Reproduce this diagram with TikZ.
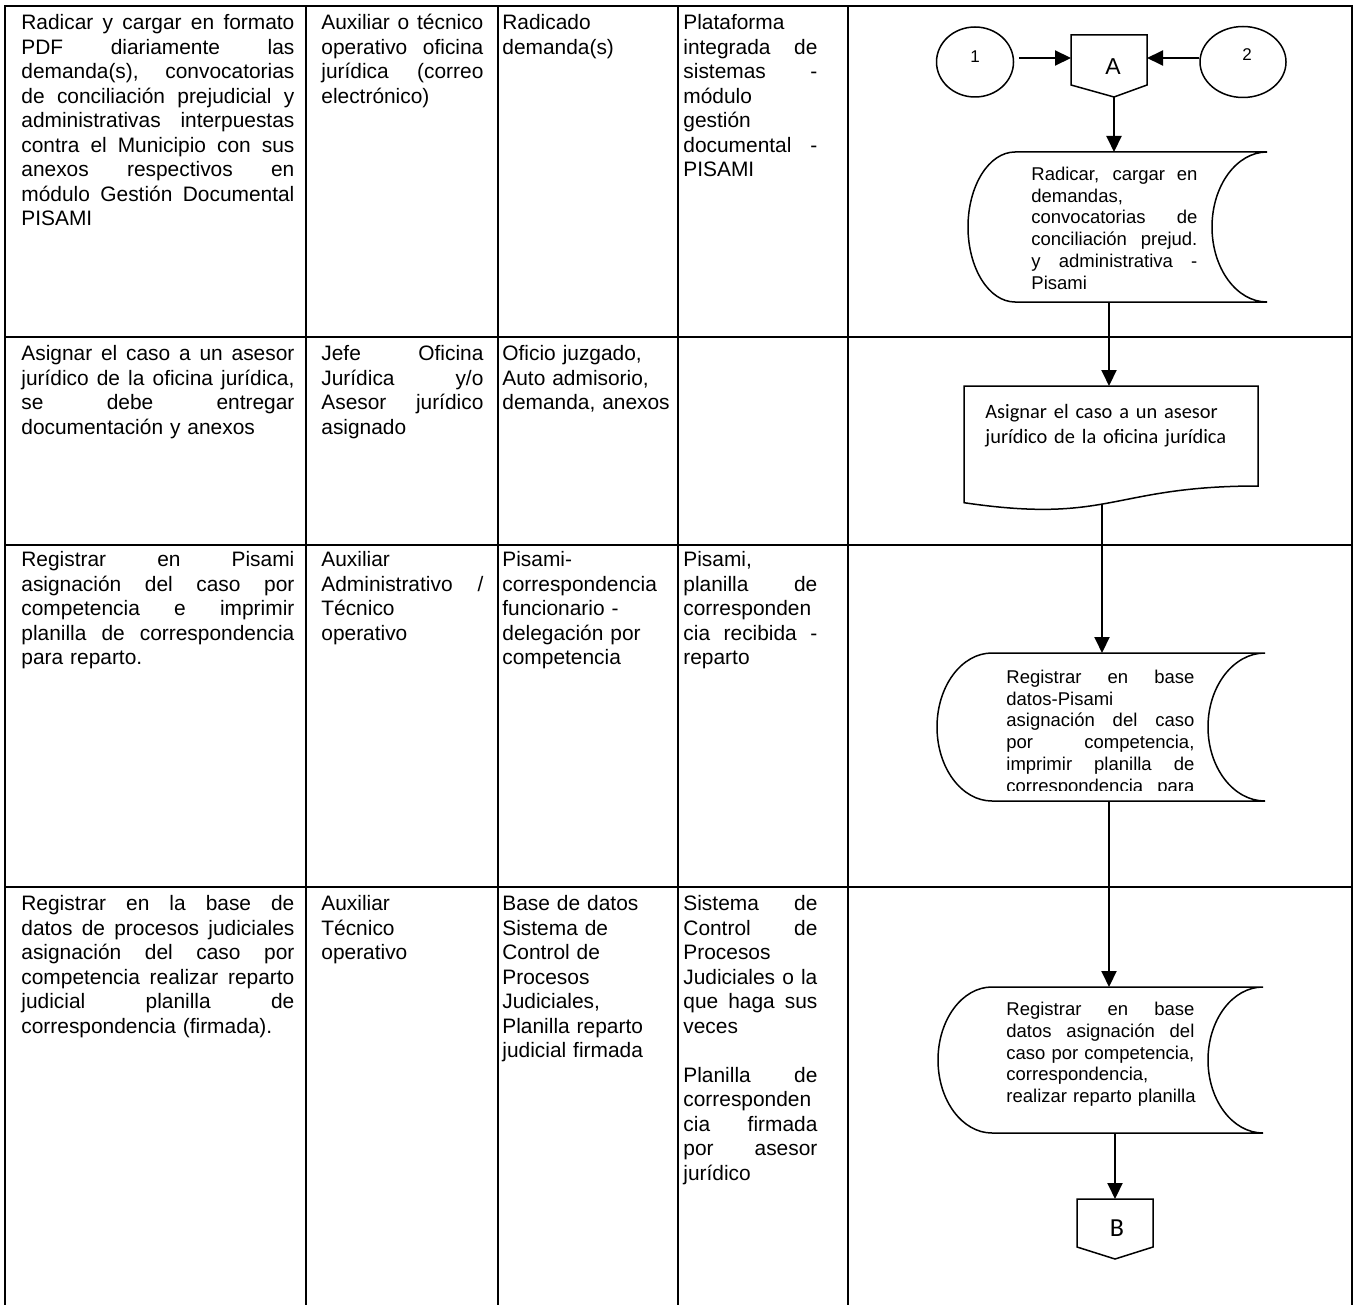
\documentclass[tikz,border=0pt]{standalone}
\usepackage{fontspec}
\setmainfont{Liberation Sans}
\newfontfamily\calibrifont{Carlito}
\usetikzlibrary{arrows.meta,shapes.geometric}

% text sizes (the picture uses 1 unit = 0.5pt)
\newcommand\tabfont{\fontsize{10.45pt}{12.25pt}\selectfont}
\newcommand\boxfont{\fontsize{9.25pt}{10.85pt}\selectfont}
\newcommand\docfont{\calibrifont\fontsize{10.2pt}{12.5pt}\selectfont}
% a justified (full-width) line, \jw wide
\newlength\jw
\newcommand\jl[1]{\makebox[\jw][s]{\spaceskip=0.278em plus 20em\relax #1}\\}

% stored-data symbol: xl, ytop, xr, ybottom, left bulge, right hollow
\newcommand\storagepath[6]{%
  \draw[outline] (#1,#2) -- (#3,#2)
    .. controls ({#3-0.5523*#6},#2) and ({#3-#6},{#2+0.4477*(#4-#2)/2}) .. ({#3-#6},{(#2+#4)/2})
    .. controls ({#3-#6},{#4-0.4477*(#4-#2)/2}) and ({#3-0.5523*#6},#4) .. (#3,#4)
    -- (#1,#4)
    .. controls ({#1-0.5523*#5},#4) and ({#1-#5},{#4-0.4477*(#4-#2)/2}) .. ({#1-#5},{(#2+#4)/2})
    .. controls ({#1-#5},{#2+0.4477*(#4-#2)/2}) and ({#1-0.5523*#5},#2) .. cycle;}

\tikzset{
  rule/.style={line width=1pt,line cap=rect},
  outline/.style={line width=0.75pt},
  flow/.style={line width=1pt,-{Triangle[length=8pt,width=7.5pt]}},
  txt/.style={anchor=north west,inner sep=0pt,align=left},
  jwidth/.style={execute at begin node={\setlength{\jw}{#1}\strut}},
  cellA/.style={txt,font=\tabfont,text width=136.5pt,jwidth=136.5pt},
  cellB/.style={txt,font=\tabfont,text width=81pt,jwidth=81pt},
  cellC/.style={txt,font=\tabfont,text width=86pt,jwidth=86pt},
  cellD/.style={txt,font=\tabfont,text width=67pt,jwidth=67pt},
  boxtext/.style={txt,font=\boxfont,text width=100pt},
  joint/.style={ellipse,draw,line width=0.75pt,inner sep=0pt,font=\fontsize{8.5pt}{10pt}\selectfont},
}

\begin{document}
\begin{tikzpicture}[x=0.5pt,y=-0.5pt]
\useasboundingbox (0,0) rectangle (1359,1305);
\fill[white] (0,0) rectangle (1359,1305);

% table rules
\foreach \yy in {6,337,545,887} \draw[rule] (5,\yy) -- (1352,\yy);
\foreach \xx in {5,306,498,678,848,1352} \draw[rule] (\xx,6) -- (\xx,1310);

% row 1
\node[cellA] (r1c1) at (21,12) {\jl{Radicar y cargar en formato}\jl{PDF diariamente las}\jl{demanda(s), convocatorias}\jl{de conciliación prejudicial y}\jl{administrativas interpuestas}\jl{contra el Municipio con sus}\jl{anexos respectivos en}\jl{módulo Gestión Documental}PISAMI};
\node[cellB] (r1c2) at (321,12) {\jl{Auxiliar o técnico}\jl{operativo oficina}\jl{jurídica (correo}electrónico)};
\node[cellC] (r1c3) at (502,12) {Radicado\\demanda(s)};
\node[cellD] (r1c4) at (683,12) {Plataforma\\\jl{integrada de}\jl{sistemas -}módulo\\gestión\\\jl{documental -}PISAMI};

% row 2
\node[cellA] (r2c1) at (21,343) {\jl{Asignar el caso a un asesor}\jl{jurídico de la oficina jurídica,}\jl{se debe entregar}documentación y anexos};
\node[cellB] (r2c2) at (321,343) {\jl{Jefe Oficina}\jl{Jurídica y/o}\jl{Asesor jurídico}asignado};
\node[cellC] (r2c3) at (502,343) {Oficio juzgado,\\Auto admisorio,\\demanda, anexos};

% row 3
\node[cellA] (r3c1) at (21,549) {\jl{Registrar en Pisami}\jl{asignación del caso por}\jl{competencia e imprimir}\jl{planilla de correspondencia}para reparto.};
\node[cellB] (r3c2) at (321,549) {Auxiliar\\\jl{Administrativo /}Técnico\\operativo};
\node[cellC] (r3c3) at (502,549) {Pisami-\\correspondencia\\funcionario -\\delegación por\\competencia};
\node[cellD] (r3c4) at (683,549) {Pisami,\\\jl{planilla de}corresponden\\\jl{cia recibida -}reparto};

% row 4
\node[cellA] (r4c1) at (21,893) {\jl{Registrar en la base de}\jl{datos de procesos judiciales}\jl{asignación del caso por}\jl{competencia realizar reparto}\jl{judicial planilla de}correspondencia (firmada).};
\node[cellB] (r4c2) at (321,893) {Auxiliar\\Técnico\\operativo};
\node[cellC] (r4c3) at (502,893) {Base de datos\\Sistema de\\Control de\\Procesos\\Judiciales,\\Planilla reparto\\judicial firmada};
\node[cellD] (r4c4) at (683,893) {\jl{Sistema de}\jl{Control de}Procesos\\\jl{Judiciales o la}\jl{que haga sus}veces\\\mbox{}\\\jl{Planilla de}corresponden\\\jl{cia firmada}\jl{por asesor}jurídico};

% connectors 1 and 2
\node[joint,minimum width=38.5pt,minimum height=35pt] (c1) at (975,62) {\raisebox{5pt}{1}};
\node[joint,minimum width=43pt,minimum height=35.5pt] (c2) at (1243,62) {\hspace{4pt}\raisebox{7pt}{2}};

% off-page connector A
\draw[outline] (1071,35) -- (1147,35) -- (1147,85) -- (1114,97) -- (1071,85) -- cycle;
\node[font=\fontsize{11.5pt}{13pt}\selectfont,inner sep=0pt] (offA) at (1113,67) {A};
\coordinate (Aw) at (1071,58);
\coordinate (Ae) at (1147,58);
\coordinate (As) at (1114,97);
\coordinate (c1e) at ([xshift=2.5pt]c1.east);
\draw[flow] (c1e |- Aw) -- (Aw);
\draw[flow] (c2.west |- Ae) -- (Ae);

% stored data 1
\storagepath{1015}{152}{1267}{302}{47}{55}
\node[boxtext,jwidth=83pt] (s1) at (1031,165) {\jl{Radicar, cargar en}demandas,\\\jl{convocatorias de}\jl{conciliación prejud.}\jl{y administrativa -}Pisami};
\coordinate (s1in) at (1114,152);
\coordinate (s1out) at (1109,302);
\draw[flow] (As) -- (s1in);

% document
\draw[outline] (964,386) -- (1258,386) -- (1258,486) .. controls (1111,486) and (1111,524.4) .. (964,502.7) -- cycle;
\node[txt,font=\docfont,text width=140pt,execute at begin node=\strut] (d1) at (985,401) {Asignar el caso a un asesor\\jurídico de la oficina jurídica};
\coordinate (d1in) at (1109,386);
\coordinate (d1out) at (1102,503.5);
\draw[flow] (s1out) -- (d1in);

% stored data 2
\storagepath{992}{653}{1265}{801}{55}{57}
\begin{scope}
  \clip (900,600) rectangle (1300,790.5);
  \node[boxtext,jwidth=94pt] (s2) at (1006,668) {\jl{Registrar en base}datos-Pisami\\\jl{asignación del caso}\jl{por competencia,}\jl{imprimir planilla de}\makebox[\jw][s]{\spaceskip=0.278em plus 20em\relax correspondencia para}};
\end{scope}
\coordinate (s2in) at (1102,653);
\coordinate (s2out) at (1109,801);
\draw[flow] (d1out) -- (s2in);

% stored data 3
\storagepath{992}{987}{1263}{1133}{54}{55}
\node[boxtext,jwidth=94pt] (s3) at (1006,1000) {\jl{Registrar en base}\jl{datos asignación del}\jl{caso por competencia,}correspondencia,\\realizar reparto planilla};
\coordinate (s3in) at (1109,987);
\coordinate (s3out) at (1115,1133);
\draw[flow] (s2out) -- (s3in);

% off-page connector B
\draw[outline] (1077,1199) -- (1153,1199) -- (1153,1247) -- (1115,1259) -- (1077,1247) -- cycle;
\node[font=\calibrifont\fontsize{13pt}{15pt}\selectfont,inner sep=0pt] (offB) at (1117,1228) {B};
\coordinate (Bn) at (1115,1199);
\draw[flow] (s3out) -- (Bn);
\end{tikzpicture}
\end{document}
